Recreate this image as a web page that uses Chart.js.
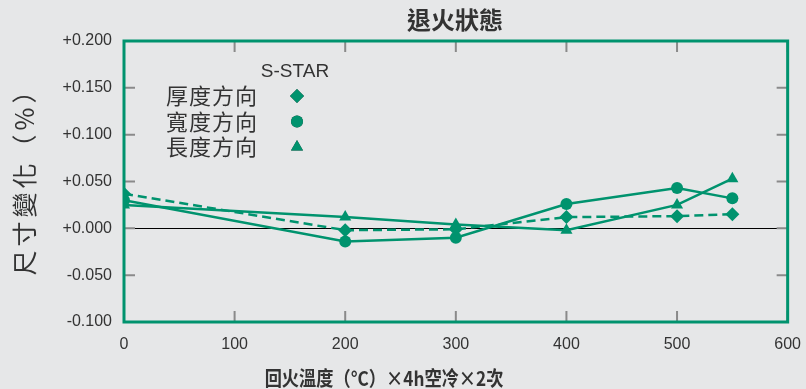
<!DOCTYPE html>
<html>
<head>
<meta charset="utf-8">
<script src="https://cdn.jsdelivr.net/npm/chart.js@4"></script>
<style>
  html, body { margin: 0; padding: 0; background: #e6e7e8; }
  #wrap { width: 806px; height: 389px; }
</style>
</head>
<body>
<div id="wrap"><canvas id="chart" width="806" height="389"></canvas></div>
<script>
// data
const temps = [0, 200, 300, 400, 500, 550];
const thickness = [0.037, -0.002, -0.001, 0.012, 0.013, 0.015]; // 厚度方向
const width = [0.030, -0.014, -0.010, 0.026, 0.043, 0.032];      // 寬度方向
const length = [0.025, 0.012, 0.004, -0.002, 0.025, 0.053];      // 長度方向
const seriesNames = ["厚度方向", "寬度方向", "長度方向"];
const yTicks = [-0.1, -0.05, 0, 0.05, 0.1, 0.15, 0.2];
const xTicks = [0, 100, 200, 300, 400, 500, 600];

const green = "#00936e";
const cjk = "'Noto Sans CJK TC', 'Noto Sans CJK JP', sans-serif";
const latin = "'Liberation Sans', Arial, sans-serif";

const toXY = vals => vals.map((v, i) => ({ x: temps[i], y: v }));

// frame, inner ticks, titles and legend
const decor = {
  id: "decor",
  afterDatasetsDraw(chart) {
    const { ctx, chartArea: a, scales } = chart;
    ctx.save();
    // inner ticks
    ctx.strokeStyle = "#8a8a8a";
    ctx.lineWidth = 2;
    yTicks.forEach(v => {
      const y = scales.y.getPixelForValue(v);
      ctx.beginPath();
      ctx.moveTo(a.left, y); ctx.lineTo(a.left + 11, y);
      ctx.moveTo(a.right, y); ctx.lineTo(a.right - 11, y);
      ctx.stroke();
    });
    xTicks.forEach(v => {
      const x = scales.x.getPixelForValue(v);
      ctx.beginPath();
      ctx.moveTo(x, a.bottom); ctx.lineTo(x, a.bottom - 11);
      ctx.moveTo(x, a.top); ctx.lineTo(x, a.top + 11);
      ctx.stroke();
    });
    // frame
    ctx.strokeStyle = green;
    ctx.lineWidth = 3;
    ctx.strokeRect(a.left, a.top, a.right - a.left, a.bottom - a.top);

    // title
    ctx.fillStyle = "#333";
    ctx.textAlign = "center";
    ctx.textBaseline = "middle";
    ctx.font = "bold 24px " + cjk;
    ctx.fillText("退火狀態", 455, 20);

    // x title (condensed like the original)
    ctx.save();
    ctx.translate(384, 378);
    ctx.scale(0.86, 1);
    ctx.font = "bold 20px " + cjk;
    ctx.fillText("回火溫度（°C）×4h空冷×2次", 0, 0);
    ctx.restore();

    // y title
    ctx.save();
    ctx.translate(24, 177);
    ctx.rotate(-Math.PI / 2);
    ctx.font = "25px " + cjk;
    ctx.letterSpacing = "4px";
    ctx.fillText("尺寸變化（%）", 2, 0);
    ctx.restore();

    // legend
    ctx.font = "19px " + latin;
    ctx.fillText("S-STAR", 295, 72);
    ctx.font = "22px " + cjk;
    ctx.letterSpacing = "1px";
    ctx.textAlign = "left";
    const styles = ["rectRot", "circle", "triangle"];
    seriesNames.forEach((n, i) => {
      const y = 96 + i * 25.5;
      ctx.fillStyle = "#333";
      ctx.fillText(n, 166, y);
      Chart.helpers.drawPoint(ctx, {
        pointStyle: styles[i], radius: i === 1 ? 6 : 7, rotation: 0, borderWidth: 0
      }, 297, y);
      ctx.fillStyle = green;
      ctx.fill();
    });
    ctx.restore();
  }
};

new Chart(document.getElementById("chart"), {
  type: "line",
  data: {
    datasets: [
      { label: seriesNames[0], data: toXY(thickness), borderDash: [9, 5], pointStyle: "rectRot", pointRadius: 7 },
      { label: seriesNames[1], data: toXY(width), pointStyle: "circle", pointRadius: 6 },
      { label: seriesNames[2], data: toXY(length), pointStyle: "triangle", pointRadius: 7 }
    ].map(d => Object.assign({
      borderColor: green, backgroundColor: green, pointBackgroundColor: green,
      pointBorderWidth: 0, borderWidth: 2.5, tension: 0
    }, d))
  },
  options: {
    responsive: false,
    animation: false,
    layout: { padding: { left: 0, right: 18, top: 41, bottom: 0 } },
    plugins: { legend: { display: false }, tooltip: { enabled: false } },
    scales: {
      x: {
        type: "linear", min: 0, max: 600,
        afterBuildTicks: s => { s.ticks = xTicks.map(v => ({ value: v })); },
        afterFit: s => { s.height = 67; },
        grid: { display: false },
        border: { display: false },
        ticks: { color: "#333", font: { family: latin, size: 16 }, padding: 5 }
      },
      y: {
        min: -0.1, max: 0.2,
        afterBuildTicks: s => { s.ticks = yTicks.map(v => ({ value: v })); },
        afterFit: s => { s.width = 124; },
        grid: {
          drawTicks: false,
          color: c => (c.tick && Math.abs(c.tick.value) < 1e-9 ? "#000" : "rgba(0,0,0,0)"),
          lineWidth: 1
        },
        border: { display: false },
        ticks: {
          color: "#333", font: { family: latin, size: 16 }, padding: 12,
          callback: v => (v >= 0 ? "+" : "") + Number(v).toFixed(3)
        }
      }
    }
  },
  plugins: [decor]
});
</script>
</body>
</html>
